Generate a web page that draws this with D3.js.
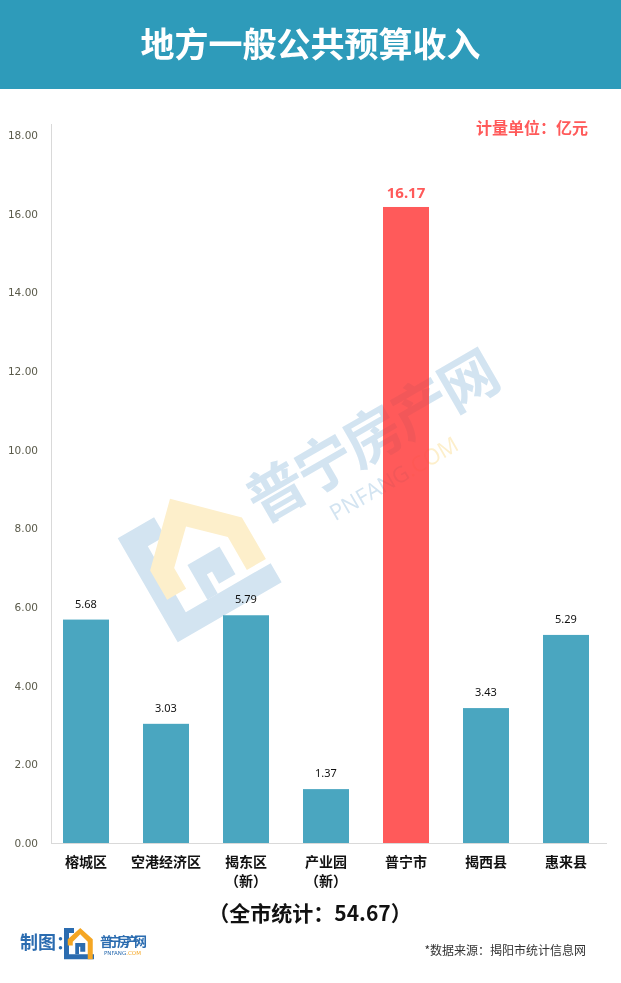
<!DOCTYPE html>
<html><head><meta charset="utf-8">
<script src="https://cdn.jsdelivr.net/npm/d3@7"></script>
<style>
html,body{margin:0;padding:0;background:#fff;}
svg{display:block;font-family:"Noto Sans CJK SC","Noto Sans",sans-serif;}
</style></head>
<body>
<svg id="c" width="621" height="983"></svg>
<script>
const title = "地方一般公共预算收入";
const categories = ["榕城区","空港经济区","揭东区\n（新）","产业园\n（新）","普宁市","揭西县","惠来县"];
const values = [5.68, 3.03, 5.79, 1.37, 16.17, 3.43, 5.29];
const highlight = [false,false,false,false,true,false,false];
const yTicks = [0,2,4,6,8,10,12,14,16,18];
const unitLabel = "计量单位：亿元";
const totalLabel = "（全市统计：54.67）";
const sourceLabel = "*数据来源：揭阳市统计信息网";

const svg = d3.select("#c");
const W = 621, H = 983;
const teal = "#4AA6C0", red = "#FF5A5A", header = "#2E9BBA";

// header
svg.append("rect").attr("x",0).attr("y",0).attr("width",W).attr("height",89).attr("fill",header);
svg.append("text").attr("x",W/2).attr("y",57).attr("text-anchor","middle")
  .attr("fill","#fff").attr("font-size",34).attr("font-weight","bold").text(title);

const y = d3.scaleLinear().domain([0,18]).range([843,135]);
const x = d3.scaleBand().domain(d3.range(categories.length)).range([46,606]).paddingInner(0.425).paddingOuter(0.2125);

function watermark(parent){
  const wm = parent.append("g").attr("transform","translate(300,470) rotate(-30)");
  const wb = "#D3E4F1", wy = "#FDEFCB";
  wm.append("path").attr("d","M-150,-32 L-192,-32 L-192,88 L-72,88 L-72,66 L-170,66 L-170,-10 L-150,-10 Z").attr("fill",wb);
  wm.append("path").attr("d","M-180,12 L-127,-40 L-74,12 L-74,60 L-96,60 L-96,22 L-127,-8 L-158,22 L-158,46 L-180,46 Z").attr("fill",wy);
  wm.append("path").attr("d","M-145,66 L-145,26 L-108,26 L-108,58 L-127,58 L-127,44 L-133,44 L-133,66 Z").attr("fill",wb);
  wm.append("text").attr("x",-60).attr("y",28).attr("font-size",58).attr("font-weight","bold")
    .attr("fill",wb).attr("textLength",280).text("普宁房产网");
  const pt = wm.append("text").attr("x",5).attr("y",62).attr("font-size",22).attr("font-family","'Open Sans',sans-serif");
  pt.append("tspan").attr("fill",wb).text("PNFANG");
  pt.append("tspan").attr("fill",wy).text(".COM");
  return wm;
}
watermark(svg);

// y axis
const yAxis = d3.axisLeft(y).tickValues(yTicks).tickFormat(d3.format(".2f")).tickSize(0).tickPadding(13);
const ga = svg.append("g").attr("transform","translate(51,0)").call(yAxis);
ga.select(".domain").remove();
ga.selectAll("text").attr("fill","#5a5a4a").attr("font-family","'DejaVu Sans',sans-serif").attr("font-size",10.5);
svg.append("line").attr("x1",51.5).attr("x2",51.5).attr("y1",124).attr("y2",843).attr("stroke","#d9d9d9");
svg.append("line").attr("x1",51).attr("x2",607).attr("y1",843.5).attr("y2",843.5).attr("stroke","#d9d9d9");

// bars
svg.append("g").selectAll("rect").data(values).join("rect")
  .attr("x",(d,i)=>x(i)).attr("width",x.bandwidth())
  .attr("y",d=>y(d)).attr("height",d=>y(0)-y(d))
  .attr("fill",(d,i)=>highlight[i]?red:teal);

// clip for watermark overlay on bars
const clip = svg.append("defs").append("clipPath").attr("id","barclip");
clip.selectAll("rect").data(values).join("rect")
  .attr("x",(d,i)=>x(i)).attr("width",x.bandwidth())
  .attr("y",d=>y(d)).attr("height",d=>y(0)-y(d));
const ovg = svg.append("g").attr("clip-path","url(#barclip)").attr("opacity",0.3).style("mix-blend-mode","multiply");
watermark(ovg);

// value labels
svg.append("g").selectAll("text").data(values).join("text")
  .attr("x",(d,i)=>x(i)+x.bandwidth()/2)
  .attr("y",(d,i)=>y(d)-(highlight[i]?9:12))
  .attr("text-anchor","middle")
  .attr("font-size",(d,i)=>highlight[i]?15:11)
  .attr("font-weight",(d,i)=>highlight[i]?"bold":"normal")
  .attr("font-family","'Noto Sans','DejaVu Sans',sans-serif")
  .attr("fill",(d,i)=>highlight[i]?"#FF5A5A":"#111")
  .text(d=>d.toFixed(2));

// category labels
const cg = svg.append("g").selectAll("text").data(categories).join("text")
  .attr("text-anchor","middle").attr("font-size",14).attr("font-weight","bold").attr("fill","#111");
cg.each(function(d,i){
  const lines = d.split("\n");
  lines.forEach((l,j)=>{
    d3.select(this).append("tspan").attr("x",x(i)+x.bandwidth()/2).attr("y",867+j*19).text(l);
  });
});

// unit label
svg.append("text").attr("x",588).attr("y",134).attr("text-anchor","end").attr("font-size",16)
  .attr("font-weight","bold").attr("fill","#FF5A5A").text(unitLabel);

// total
svg.append("text").attr("x",310).attr("y",921).attr("text-anchor","middle").attr("font-size",21)
  .attr("font-weight","bold").attr("fill","#111").text(totalLabel);

// footer credit
svg.append("text").attr("x",20).attr("y",949).attr("font-size",18).attr("font-weight","bold")
  .attr("fill","#2B6CB0").text("制图：");
const lg = svg.append("g").attr("transform","translate(64,928) scale(1.25)");
lg.append("path").attr("d","M8,0 L0,0 L0,25 L24,25 L24,21 L4,21 L4,4 L8,4 Z").attr("fill","#2B6CB0");
lg.append("path").attr("d","M3,9 L13,0 L23,9 L23,25 L19,25 L19,11 L13,5 L7,11 L7,14 L3,14 Z").attr("fill","#F5A623");
lg.append("path").attr("d","M9,21 L9,12 L17,12 L17,19 L13,19 L13,15 L12,15 L12,21 Z").attr("fill","#2B6CB0");
svg.append("text").attr("x",100).attr("y",946).attr("font-size",13).attr("font-weight","bold")
  .attr("fill","#2B6CB0").attr("textLength",47).text("普宁房产网");
const sm = svg.append("text").attr("x",104).attr("y",955).attr("font-size",5.5).attr("font-family","'DejaVu Sans',sans-serif");
sm.append("tspan").attr("fill","#2B6CB0").text("PNFANG");
sm.append("tspan").attr("fill","#F5A623").text(".COM");

svg.append("text").attr("x",586).attr("y",955).attr("text-anchor","end").attr("font-size",12)
  .attr("fill","#333").text(sourceLabel);
</script>
</body></html>
